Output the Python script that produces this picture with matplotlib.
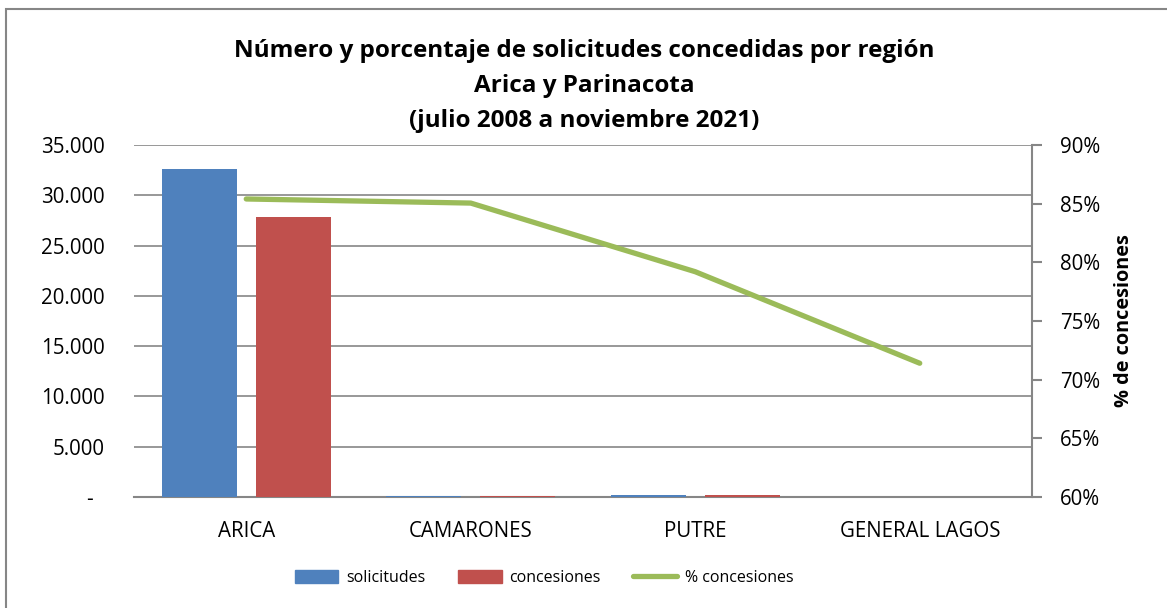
import matplotlib
matplotlib.use("Agg")
import matplotlib.pyplot as plt
import numpy as np
from matplotlib.ticker import FuncFormatter
from matplotlib.patches import Rectangle
from matplotlib.lines import Line2D

plt.rcParams['font.family'] = ['Open Sans', 'DejaVu Sans']

categories = ["ARICA", "CAMARONES", "PUTRE", "GENERAL LAGOS"]
solicitudes = [32600, 60, 230, 30]
concesiones = [27850, 51, 182, 21]
pct_concesiones = [85.4, 85.05, 79.2, 71.4]

title = "Número y porcentaje de solicitudes concedidas por región\nArica y Parinacota\n(julio 2008 a noviembre 2021)"

W, H = 1167, 608
fig = plt.figure(figsize=(W / 100, H / 100), dpi=100)
ax = fig.add_axes([134 / W, 1 - 497 / H, (1032 - 134) / W, (497 - 145) / H])

x = np.arange(len(categories))
bw = 0.333
off = 0.209
ax.bar(x - off, solicitudes, bw, color="#4F81BD", zorder=3, label="solicitudes")
ax.bar(x + off, concesiones, bw, color="#C0504D", zorder=3, label="concesiones")
ax.set_xlim(-0.5, len(categories) - 0.5)
ax.set_ylim(0, 35000)
ax.set_yticks(np.arange(0, 35001, 5000))

def fmt_left(v, p):
    if v == 0:
        return "-  "
    return f"{int(v):,}".replace(",", ".")

ax.yaxis.set_major_formatter(FuncFormatter(fmt_left))
ax.grid(axis="y", color="#868686", linewidth=1.2, zorder=0)
ax.set_axisbelow(True)
for s in ["left", "top", "right"]:
    ax.spines[s].set_visible(False)
ax.spines["bottom"].set_color("#868686")
ax.spines["bottom"].set_linewidth(1.5)
ax.tick_params(axis="y", length=0, labelsize=14.8, pad=21)
ax.tick_params(axis="x", length=0, labelsize=14.8, pad=17)
ax.set_xticks(x)
ax.set_xticklabels(categories)

ax2 = ax.twinx()
ax2.plot(x, pct_concesiones, color="#9BBB59", linewidth=3.8, solid_capstyle="round", zorder=4)
ax2.set_ylim(60, 90)
ax2.set_yticks(np.arange(60, 91, 5))
ax2.yaxis.set_major_formatter(FuncFormatter(lambda v, p: f"{int(v)}%"))
for s in ["left", "top", "bottom"]:
    ax2.spines[s].set_visible(False)
ax2.spines["right"].set_color("#868686")
ax2.spines["right"].set_linewidth(1.5)
ax2.tick_params(axis="y", length=7, width=1.5, color="#868686", labelsize=14.8, pad=13, direction="out")
ax2.set_ylabel("% de concesiones", fontsize=14.3, fontweight="bold", labelpad=10)

fig.text(584 / W, 1 - 86 / H, title, ha="center", va="center", fontsize=17.5, fontweight="bold",
         linespacing=1.62)

handles = [
    Rectangle((0, 0), 1, 1, color="#4F81BD"),
    Rectangle((0, 0), 1, 1, color="#C0504D"),
    Line2D([0], [0], color="#9BBB59", linewidth=3.8, solid_capstyle="round"),
]
fig.legend(handles, ["solicitudes", "concesiones", "% concesiones"], loc="center",
           bbox_to_anchor=(544 / W, 1 - 578 / H), ncol=3, frameon=False, fontsize=11.5,
           handlelength=2.75, handleheight=0.8, columnspacing=2.0, handletextpad=0.5)

fig.patches.append(Rectangle((6 / W, -0.05), 1.2, 1 - 9 / H + 0.05, transform=fig.transFigure,
                             fill=False, edgecolor="#868686", linewidth=1.5))

fig.savefig("out.png", dpi=100)
